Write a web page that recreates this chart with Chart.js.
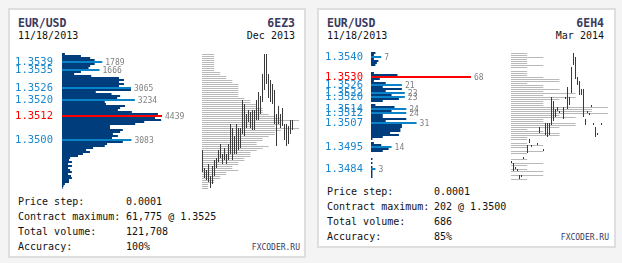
<!DOCTYPE html>
<html><head><meta charset="utf-8">
<script src="https://cdn.jsdelivr.net/npm/chart.js@4.4.0/dist/chart.umd.min.js"></script>
<style>
html,body{margin:0;padding:0}
body{width:622px;height:263px;background:#f4f4f4;position:relative;overflow:hidden;font-family:'DejaVu Sans Mono',monospace}
.panel{position:absolute;box-sizing:border-box;border:2px solid #dedede;background:#fff}
.t{position:absolute;white-space:pre;height:14px;line-height:14px;font-size:10px;color:#111}
.h{font-weight:bold;font-size:11.5px;color:#3a3a5e}
.fx{font-size:8px;color:#3a3a5e}
canvas{position:absolute}
</style></head><body>
<div class="panel" style="left:8px;top:8px;width:298px;height:250px"></div>
<div class="panel" style="left:317px;top:8px;width:299px;height:240px"></div>

<div class="t h" style="left:18px;top:16px">EUR/USD</div>
<div class="t h" style="right:327px;top:16px">6EZ3</div>
<div class="t" style="left:18px;top:29px">11/18/2013</div>
<div class="t" style="right:327px;top:29px">Dec 2013</div>
<div class="t" style="left:18px;top:195px">Price step:</div>
<div class="t" style="left:126px;top:195px">0.0001</div>
<div class="t" style="left:18px;top:210px">Contract maximum:</div>
<div class="t" style="left:126px;top:210px">61,775 @ 1.3525</div>
<div class="t" style="left:18px;top:225px">Total volume:</div>
<div class="t" style="left:126px;top:225px">121,708</div>
<div class="t" style="left:18px;top:240px">Accuracy:</div>
<div class="t" style="left:126px;top:240px">100%</div>
<div class="t fx" style="right:322px;top:241px">FXCODER.RU</div>

<div class="t h" style="left:327px;top:16px">EUR/USD</div>
<div class="t h" style="right:18px;top:16px">6EH4</div>
<div class="t" style="left:327px;top:29px">11/18/2013</div>
<div class="t" style="right:18px;top:29px">Mar 2014</div>
<div class="t" style="left:327px;top:185px">Price step:</div>
<div class="t" style="left:434px;top:185px">0.0001</div>
<div class="t" style="left:327px;top:200px">Contract maximum:</div>
<div class="t" style="left:434px;top:200px">202 @ 1.3500</div>
<div class="t" style="left:327px;top:215px">Total volume:</div>
<div class="t" style="left:434px;top:215px">686</div>
<div class="t" style="left:327px;top:230px">Accuracy:</div>
<div class="t" style="left:434px;top:230px">85%</div>
<div class="t fx" style="right:13px;top:231px">FXCODER.RU</div>

<canvas id="lh" width="192" height="136" style="left:8px;top:53px"></canvas>
<canvas id="lp" width="97" height="137" style="left:202px;top:53px"></canvas>
<canvas id="lr" width="94" height="136" style="left:201px;top:53px"></canvas>
<canvas id="rh" width="191" height="130" style="left:318px;top:50px"></canvas>
<canvas id="rp" width="97" height="131" style="left:511px;top:50px"></canvas>
<canvas id="rr" width="94" height="130" style="left:510px;top:50px"></canvas>

<script>
// ---------- Panel 1: 6EZ3 (Dec 2013) ----------
const L_PRICES = ["1.3543","1.3542","1.3541","1.3540","1.3539","1.3538","1.3537","1.3536","1.3535","1.3534",
"1.3533","1.3532","1.3531","1.3530","1.3529","1.3528","1.3527","1.3526","1.3525","1.3524",
"1.3523","1.3522","1.3521","1.3520","1.3519","1.3518","1.3517","1.3516","1.3515","1.3514",
"1.3513","1.3512","1.3511","1.3510","1.3509","1.3508","1.3507","1.3506","1.3505","1.3504",
"1.3503","1.3502","1.3501","1.3500","1.3499","1.3498","1.3497","1.3496","1.3495","1.3494",
"1.3493","1.3492","1.3491","1.3490","1.3489","1.3488","1.3487","1.3486","1.3485","1.3484",
"1.3483","1.3482","1.3481","1.3480","1.3479","1.3478","1.3477","1.3476"];
const L_VOLUME = [130,840,1250,1450,1789,1450,1250,1180,1666,840,
540,1300,2530,2750,2530,2750,2530,3065,3060,1500,
2200,2580,2450,3234,1900,1950,2800,2580,2480,3100,
4260,4439,4130,4400,3650,3250,2130,2130,2700,2580,
2260,2480,2220,3083,2700,2000,1900,1380,1070,1240,
930,710,360,310,440,270,440,270,360,440,
270,400,440,310,310,130,70,30];
const L_MARKED = ["1.3539","1.3535","1.3526","1.3520","1.3500"];
const L_MAX_LEVEL = "1.3512";
const L_TPO = [2,2,2,2,2,2,2,2,2,3,
3,4,4,5,5,6,6,6,6,6,
6,6,7,8,8,9,9,10,10,10,
11,12,13,16,13,13,12,16,13,12,
12,11,10,10,9,9,11,10,9,8,
8,8,7,7,6,6,5,5,6,4,
4,3,3,2,2,1,1,1];
const L_LOW = [1.3484,1.3481,1.3480,1.3479,1.3476,1.3478,1.3482,1.3486,1.3489,1.3491,
1.3488,1.3490,1.3488,1.3490,1.3493,1.3490,1.3493,1.3493,1.3495,1.3496,
1.3503,1.3502,1.3506,1.3509,1.3506,1.3505,1.3505,1.3510,1.3510,1.3513,
1.3519,1.3525,1.3528,1.3521,1.3519,1.3518,1.3508,1.3497,1.3508,1.3506,
1.3507,1.3500,1.3497,1.3498,1.3503,1.3505];
const L_HIGH = [1.3495,1.3486,1.3485,1.3488,1.3482,1.3487,1.3490,1.3491,1.3495,1.3498,
1.3493,1.3496,1.3493,1.3498,1.3508,1.3506,1.3502,1.3508,1.3506,1.3506,
1.3520,1.3518,1.3513,1.3515,1.3514,1.3515,1.3515,1.3520,1.3524,1.3522,
1.3533,1.3543,1.3543,1.3533,1.3530,1.3528,1.3525,1.3513,1.3517,1.3513,
1.3516,1.3508,1.3508,1.3507,1.3510,1.3510];

// ---------- Panel 2: 6EH4 (Mar 2014) ----------
const R_PRICES = ["1.3543","1.3542","1.3541","1.3540","1.3539","1.3538","1.3537","1.3536","1.3535","1.3534",
"1.3533","1.3532","1.3531","1.3530","1.3529","1.3528","1.3527","1.3526","1.3525","1.3524",
"1.3523","1.3522","1.3521","1.3520","1.3519","1.3518","1.3517","1.3516","1.3515","1.3514",
"1.3513","1.3512","1.3511","1.3510","1.3509","1.3508","1.3507","1.3506","1.3505","1.3504",
"1.3503","1.3502","1.3501","1.3500","1.3499","1.3498","1.3497","1.3496","1.3495","1.3494",
"1.3493","1.3492","1.3491","1.3490","1.3489","1.3488","1.3487","1.3486","1.3485","1.3484",
"1.3483","1.3482","1.3481","1.3480","1.3479"];
const R_VOLUME = [0,3,2,7,2,5,4,3,0,0,
0,2,18,68,6,2,10,21,8,21,
10,23,14,23,19,8,0,3,16,24,
14,24,8,8,24,10,31,21,21,20,
20,13,19,8,1,0,2,7,14,12,
8,0,0,0,1,0,1,0,1,3,
1,1,1,1,0];
const R_MARKED = ["1.3540","1.3526","1.3522","1.3520","1.3514","1.3512","1.3507","1.3495","1.3484"];
const R_MAX_LEVEL = "1.3530";
const R_TPO = [0,1,1,2,1,1,1,2,1,0,
1,1,1,2,3,3,1,2,2,3,
2,4,2,4,3,2,2,2,6,5,
5,6,3,4,2,2,4,4,3,1,
2,3,3,1,1,0,1,2,1,0,
2,1,0,0,1,0,2,1,0,1,
2,0,2,0,1];
const R_LOW = [1.3487,1.3483,1.3484,1.3483,1.3479,1.3480,1.3489,null,1.3492,1.3497,
1.3495,null,null,1.3496,1.3502,null,1.3493,1.3501,1.3500,1.3501,
1.3506,1.3508,1.3510,1.3513,1.3512,null,1.3509,1.3519,1.3514,1.3516,
1.3522,1.3536,1.3529,1.3526,1.3521,1.3521,1.3510,1.3506,1.3512,1.3511,
1.3515,1.3506,1.3500,1.3501,null,1.3506];
const R_HIGH = [1.3487,1.3487,1.3484,1.3483,1.3481,1.3481,1.3489,null,1.3496,1.3499,
1.3495,null,null,1.3496,1.3505,null,1.3493,1.3507,1.3507,1.3507,
1.3520,1.3518,1.3514,1.3515,1.3512,null,1.3515,1.3520,1.3525,1.3520,
1.3535,1.3542,1.3540,1.3530,1.3528,1.3524,1.3524,1.3509,1.3513,1.3512,
1.3515,1.3506,1.3505,1.3502,null,1.3507];

const FONT = '"DejaVu Sans Mono", monospace';
const NAVY = '#003d7c', LIGHT = '#0b83c8', RED = '#ff0000', LABEL_BLUE = '#1b87cf';

function levelLabels(prices, vols, marked, maxLevel, gap) {
  return {
    id: 'levelLabels',
    afterDatasetsDraw(chart) {
      const ctx = chart.ctx, meta = chart.getDatasetMeta(0), left = chart.chartArea.left;
      ctx.save();
      ctx.textBaseline = 'middle';
      marked.concat([maxLevel]).forEach(p => {
        const i = prices.indexOf(p), el = meta.data[i];
        ctx.font = '10.5px ' + FONT;
        ctx.textAlign = 'right';
        ctx.fillStyle = p === maxLevel ? RED : LABEL_BLUE;
        ctx.fillText(p, left - gap, el.y + 0.5);
        ctx.font = '8px ' + FONT;
        ctx.textAlign = 'left';
        ctx.fillStyle = '#808080';
        ctx.fillText(String(vols[i]), el.x + 3, el.y + 0.5);
      });
      ctx.restore();
    }
  };
}

const common = { responsive: false, animation: false, devicePixelRatio: 1,
  plugins: { legend: { display: false }, tooltip: { enabled: false } } };

function histogram(id, prices, vols, marked, maxLevel, padL, padR, gap) {
  new Chart(document.getElementById(id), {
    type: 'bar',
    data: { labels: prices, datasets: [{ data: vols,
      backgroundColor: prices.map(p => p === maxLevel ? RED : (marked.includes(p) ? LIGHT : NAVY)),
      borderWidth: 0, inflateAmount: 0, barPercentage: 1, categoryPercentage: 1 }] },
    options: Object.assign({}, common, { indexAxis: 'y',
      layout: { padding: { left: padL, right: padR, top: 0, bottom: 0 } },
      scales: { x: { display: false, min: 0, max: Math.max(...vols) }, y: { display: false } } }),
    plugins: [levelLabels(prices, vols, marked, maxLevel, gap)]
  });
}

function profile(id, prices, counts) {
  new Chart(document.getElementById(id), {
    type: 'bar',
    data: { labels: prices, datasets: [{ data: counts, backgroundColor: '#b9b9b9',
      borderWidth: 0, inflateAmount: 0, barPercentage: 0.5, categoryPercentage: 1 }] },
    options: Object.assign({}, common, { indexAxis: 'y',
      layout: { padding: { left: 0, right: 0, top: 0.5, bottom: 0.5 } },
      scales: { x: { display: false, min: 0, max: Math.max(...counts) }, y: { display: false } } })
  });
}

function ranges(id, lows, highs, prices) {
  const step = 0.0001;
  new Chart(document.getElementById(id), {
    type: 'bar',
    data: { labels: lows.map((_, i) => 'b' + i), datasets: [{
      data: lows.map((l, i) => l === null ? null : [l, highs[i]]),
      backgroundColor: '#3a3a3a', borderWidth: 0, inflateAmount: 0,
      barPercentage: 0.5, categoryPercentage: 1, minBarLength: 2 }] },
    options: Object.assign({}, common, {
      layout: { padding: { left: 0.5, right: 1.5, top: 0, bottom: 0 } },
      scales: { x: { display: false },
        y: { display: false,
             min: parseFloat(prices[prices.length - 1]) - step / 2,
             max: parseFloat(prices[0]) + step / 2 } } })
  });
}

histogram('lh', L_PRICES, L_VOLUME, L_MARKED, L_MAX_LEVEL, 54, 38, 9);
profile('lp', L_PRICES, L_TPO);
ranges('lr', L_LOW, L_HIGH, L_PRICES);
histogram('rh', R_PRICES, R_VOLUME, R_MARKED, R_MAX_LEVEL, 53, 38, 8);
profile('rp', R_PRICES, R_TPO);
ranges('rr', R_LOW, R_HIGH, R_PRICES);
</script>
</body></html>
